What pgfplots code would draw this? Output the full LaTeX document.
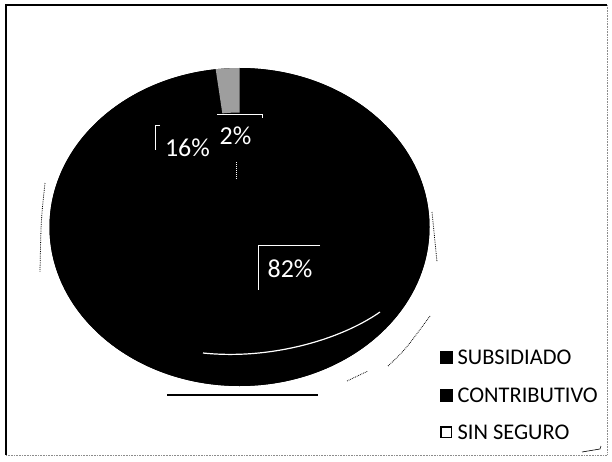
\documentclass[border=0pt]{standalone}
\usepackage{pgfplots}
\usepackage{pgfplotstable}
\usepackage{fontspec}
\setmainfont{Carlito}
\pgfplotsset{compat=1.18}

% share of each insurance type (%)
\pgfplotstableread{
value
82
16
2
}\segurodata

\pgfplotstablegetelem{0}{value}\of\segurodata \pgfmathtruncatemacro\vA{\pgfplotsretval}
\pgfplotstablegetelem{1}{value}\of\segurodata \pgfmathtruncatemacro\vB{\pgfplotsretval}
\pgfplotstablegetelem{2}{value}\of\segurodata \pgfmathtruncatemacro\vC{\pgfplotsretval}
% Excel style: start at 12 o'clock, go clockwise
\pgfmathsetmacro\aA{90-3.6*\vA}
\pgfmathsetmacro\aB{\aA-3.6*\vB}
\pgfmathsetmacro\aC{\aB-3.6*\vC}

\begin{document}
\begin{tikzpicture}
\begin{axis}[
  width=612bp, height=462bp, scale only axis,
  xmin=0, xmax=612, ymin=0, ymax=462, y dir=reverse,
  hide axis, clip=false,
  legend cell align=left,
  legend style={at={(axis cs:440,349.5)}, anchor=north west, draw=none, fill=none,
    inner sep=0pt, font=\fontsize{22.5}{27}\selectfont, row sep=22.5bp, column sep=5bp,
    nodes={inner sep=0pt, text height=15bp, text depth=0bp}},
]
\path[fill=white] (axis cs:0,0) rectangle (axis cs:612,462);

% frame of the scanned figure
\draw[black, line width=1.6bp] (axis cs:6,455) -- (axis cs:6,5) -- (axis cs:607,5);
\draw[black!45, densely dotted, line width=0.6bp] (axis cs:607,5) -- (axis cs:607,455) -- (axis cs:6,455);

% wedges (a black disc below hides the seams between them)
\fill[black] (axis cs:239.5,227) ellipse[x radius=190bp, y radius=159bp];
\fill[black] (axis cs:239.5,227) -- ++(90:190bp and 159bp)
  arc[start angle=90, end angle=\aA, x radius=190bp, y radius=159bp] -- cycle;
\fill[black] (axis cs:239.5,227) -- ++(\aA:190bp and 159bp)
  arc[start angle=\aA, end angle=\aB, x radius=190bp, y radius=159bp] -- cycle;
% the scan only kept the outer part of the small wedge grey
\fill[black!38] (axis cs:239.5,227) ++(\aB:137bp and 114.5bp) -- ++(\aB:53bp and 44.5bp)
  arc[start angle=\aB, end angle=\aC, x radius=190bp, y radius=159bp]
  -- ++(\aC+180:53bp and 44.5bp)
  arc[start angle=\aC, end angle=\aB, x radius=137bp, y radius=114.5bp] -- cycle;

% label boxes (white leader lines)
\draw[white, line width=0.8bp] (axis cs:217,114) -- (axis cs:262,114) -- (axis cs:262,118);
\draw[white, line width=0.8bp] (axis cs:160,125) -- (axis cs:155,125) -- (axis cs:155,150);
\draw[white, line width=0.8bp] (axis cs:320,245) -- (axis cs:258,245) -- (axis cs:258,290);
\draw[white, densely dotted, line width=1bp] (axis cs:236,162) -- (axis cs:236,178);

% labels
\node[white, anchor=base, font=\fontsize{26}{30}\selectfont] at (axis cs:290,277) {\vA\%};
\node[white, anchor=base, font=\fontsize{26}{30}\selectfont] at (axis cs:187.5,156) {\vB\%};
\node[white, anchor=base, font=\fontsize{26}{30}\selectfont] at (axis cs:235.5,144) {\vC\%};

% scan marks
\draw[white, line width=1.2bp] (axis cs:203,353) .. controls (axis cs:270,360) and (axis cs:340,340) .. (axis cs:380,312);
\draw[black, line width=1.5bp] (axis cs:167,395) -- (axis cs:318,395);
\draw[black, densely dotted, line width=0.8bp] (axis cs:45,183) .. controls (axis cs:41,220) .. (axis cs:40,272);
\draw[black, densely dotted, line width=0.8bp] (axis cs:432,212) -- (axis cs:437,262);
\draw[black, densely dotted, line width=0.8bp] (axis cs:388,366) .. controls (axis cs:405,350) .. (axis cs:430,316);
\draw[black, densely dotted, line width=0.8bp] (axis cs:347,381) -- (axis cs:368,371);
\draw[black, line width=0.6bp] (axis cs:582,452) -- (axis cs:600,449) -- (axis cs:601,446);

\addlegendimage{legend image code/.code={\fill[black] (0bp,-6bp) rectangle (12bp,6bp);}}
\addlegendentry{SUBSIDIADO}
\addlegendimage{legend image code/.code={\fill[black] (0bp,-6bp) rectangle (12bp,6bp);}}
\addlegendentry{CONTRIBUTIVO}
\addlegendimage{legend image code/.code={\draw[black, fill=white, line width=1.5bp] (0.75bp,-5.25bp) rectangle (11.25bp,5.25bp);}}
\addlegendentry{SIN SEGURO}
\end{axis}
\end{tikzpicture}
\end{document}
